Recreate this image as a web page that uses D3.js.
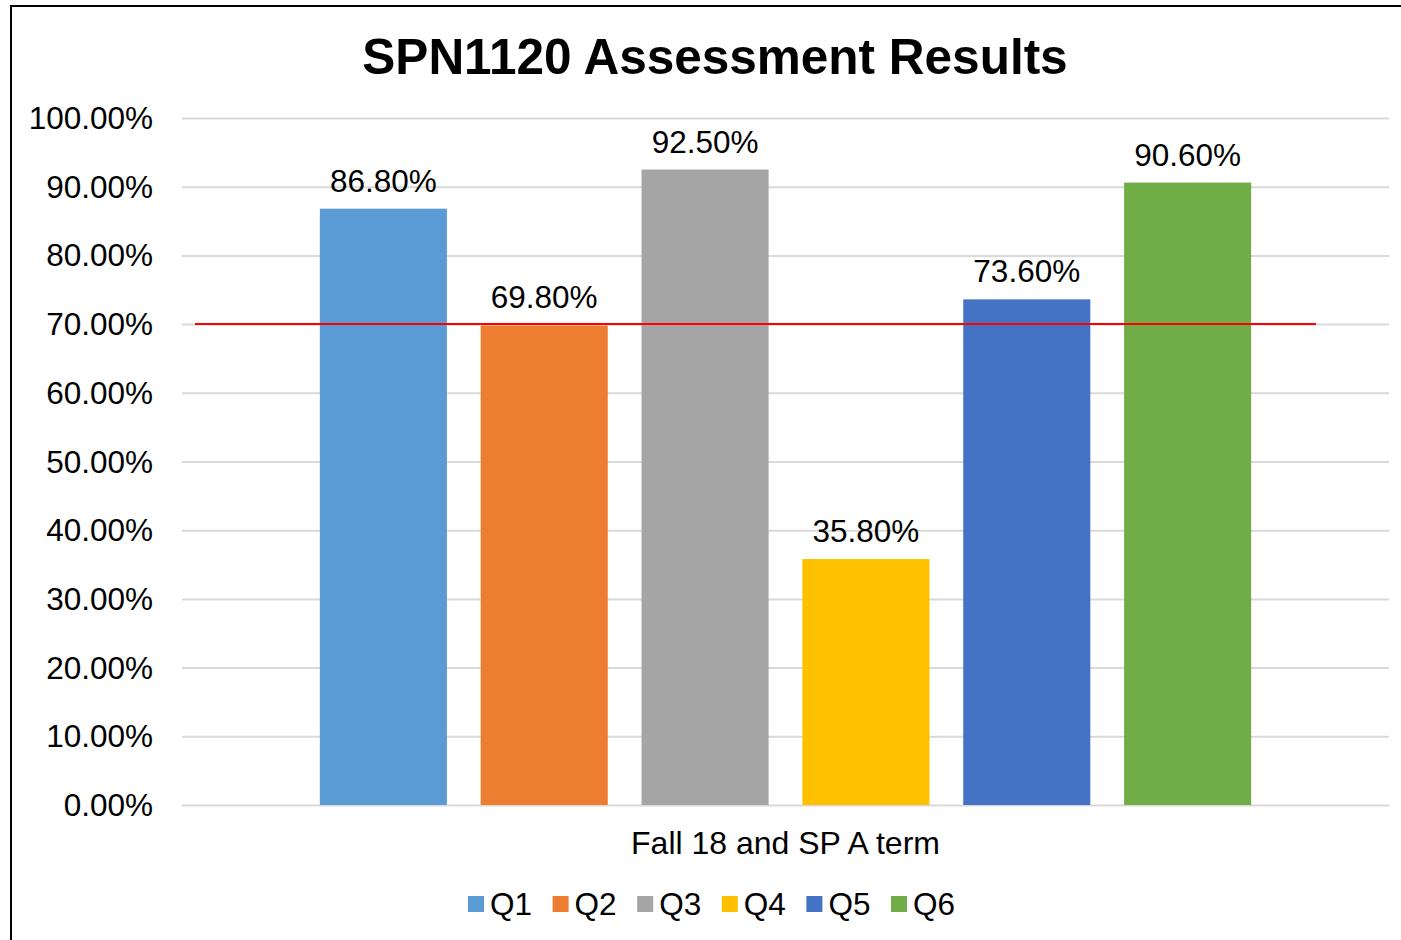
<!doctype html>
<html lang="en">
<head>
	<meta charset="UTF-8">
	<title>SPN1120 Assessment Results</title>
	<style>
		body { margin: 0; background: #fff; }
		svg text { font-family: "Liberation Sans", Arial, sans-serif; fill: #000; }
		.grid line { stroke: #d9d9d9; stroke-width: 2; }
		.grid .domain { display: none; }
	</style>
</head>
<body>
	<script src="https://cdnjs.cloudflare.com/ajax/libs/d3/7.8.5/d3.min.js"></script>
	<script>
		var categories = ['Fall 18 and SP A term'],
			series = ['Q1', 'Q2', 'Q3', 'Q4', 'Q5', 'Q6'],
			values = [0.868, 0.698, 0.925, 0.358, 0.736, 0.906],
			colors = ['#5b9bd5', '#ed7d31', '#a5a5a5', '#ffc000', '#4472c4', '#70ad47'],
			yTicks = [0, 0.1, 0.2, 0.3, 0.4, 0.5, 0.6, 0.7, 0.8, 0.9, 1.0],
			targetValue = [0.70];

		var w = 1401,
			h = 940,
			plotLeft = 182,
			plotRight = 1389,
			plotTop = 118,
			plotBottom = 805,
			labelSize = '31.5px';

		var svg = d3.select('body')
			.append('svg')
			.attr('width', w)
			.attr('height', h);

		// chart frame (cut off at the right and bottom in the original)
		svg.append('rect')
			.attr('x', 11)
			.attr('y', 6)
			.attr('width', w + 20)
			.attr('height', h + 20)
			.attr('fill', 'none')
			.attr('stroke', '#000')
			.attr('stroke-width', 2);

		var yScale = d3.scaleLinear()
			.domain([0, 1])
			.range([plotBottom, plotTop]);

		var x0 = d3.scaleBand()
			.domain(categories)
			.range([plotLeft, plotRight])
			.paddingOuter(0.148)
			.paddingInner(0);

		var x1 = d3.scaleBand()
			.domain(series)
			.range([0, x0.bandwidth()])
			.paddingInner(0.21)
			.paddingOuter(0);

		var pct = d3.format('.2%');

		// gridlines
		svg.append('g')
			.attr('class', 'grid')
			.attr('transform', 'translate(' + plotLeft + ',0)')
			.call(d3.axisLeft(yScale).tickValues(yTicks).tickSize(-(plotRight - plotLeft)).tickFormat(''));

		// y tick labels
		svg.append('g')
			.selectAll('text')
			.data(yTicks)
			.enter()
			.append('text')
			.attr('x', 153)
			.attr('y', function(d) { return yScale(d); })
			.attr('dy', '0.35em')
			.attr('text-anchor', 'end')
			.style('font-size', labelSize)
			.text(function(d) { return pct(d); });

		// bars
		var group = svg.append('g')
			.attr('transform', 'translate(' + x0(categories[0]) + ',0)');

		group.selectAll('rect')
			.data(values)
			.enter()
			.append('rect')
			.attr('x', function(d, i) { return x1(series[i]); })
			.attr('y', function(d) { return yScale(d); })
			.attr('width', x1.bandwidth())
			.attr('height', function(d) { return plotBottom - yScale(d); })
			.attr('fill', function(d, i) { return colors[i]; });

		group.selectAll('text')
			.data(values)
			.enter()
			.append('text')
			.attr('x', function(d, i) { return x1(series[i]) + x1.bandwidth() / 2; })
			.attr('y', function(d) { return yScale(d) - 17; })
			.attr('text-anchor', 'middle')
			.style('font-size', labelSize)
			.text(function(d) { return pct(d); });

		// 70% target line
		svg.selectAll('line.target')
			.data(targetValue)
			.enter()
			.append('line')
			.attr('class', 'target')
			.attr('x1', plotLeft + 13)
			.attr('x2', plotRight - 73)
			.attr('y1', function(d) { return yScale(d); })
			.attr('y2', function(d) { return yScale(d); })
			.attr('stroke', '#ff0000')
			.attr('stroke-width', 2);

		// category label
		svg.append('text')
			.attr('x', x0(categories[0]) + x0.bandwidth() / 2)
			.attr('y', 854)
			.attr('text-anchor', 'middle')
			.style('font-size', '32px')
			.text(categories[0]);

		// title
		svg.append('text')
			.attr('x', 715)
			.attr('y', 74)
			.attr('text-anchor', 'middle')
			.style('font-size', '49.5px')
			.style('font-weight', 'bold')
			.text('SPN1120 Assessment Results');

		// legend
		var legend = svg.append('g')
			.selectAll('g')
			.data(series)
			.enter()
			.append('g')
			.attr('transform', function(d, i) { return 'translate(' + (468 + i * 84.6) + ',896)'; });

		legend.append('rect')
			.attr('width', 16)
			.attr('height', 16)
			.attr('fill', function(d, i) { return colors[i]; });

		legend.append('text')
			.attr('x', 22)
			.attr('y', 8)
			.attr('dy', '0.35em')
			.style('font-size', labelSize)
			.text(function(d) { return d; });
	</script>
</body>
</html>
